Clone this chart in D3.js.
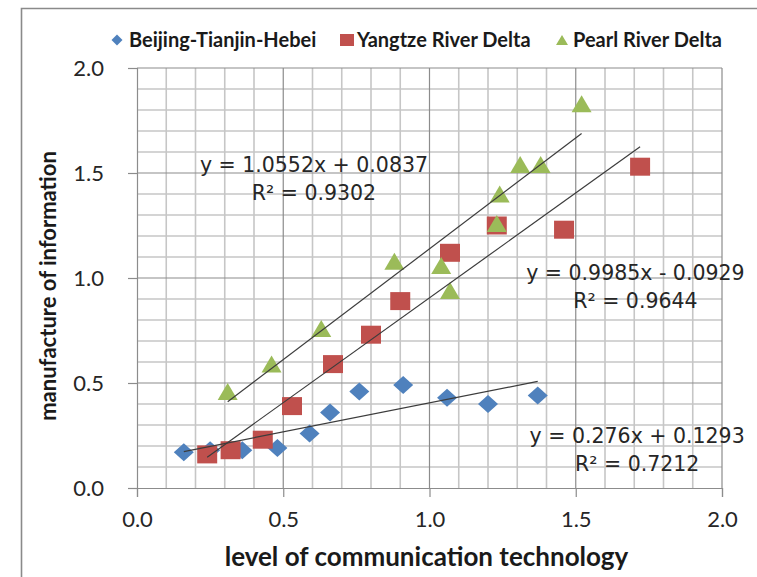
<!DOCTYPE html>
<html>
<head>
<meta charset="utf-8">
<script src="https://cdn.jsdelivr.net/npm/d3@7"></script>
<style>
  html, body { margin: 0; padding: 0; background: #fff; }
  svg { display: block; }
</style>
</head>
<body>
<div id="chart"></div>
<script>
// ---- data -------------------------------------------------------------
const seriesNames = ["Beijing-Tianjin-Hebei", "Yangtze River Delta", "Pearl River Delta"];

const bthX = [0.16, 0.25, 0.36, 0.48, 0.59, 0.66, 0.76, 0.91, 1.06, 1.20, 1.37];
const bthY = [0.17, 0.18, 0.18, 0.19, 0.26, 0.36, 0.46, 0.49, 0.43, 0.40, 0.44];

const yrdX = [0.24, 0.32, 0.43, 0.53, 0.67, 0.80, 0.90, 1.07, 1.23, 1.46, 1.72];
const yrdY = [0.16, 0.18, 0.23, 0.39, 0.59, 0.73, 0.89, 1.12, 1.25, 1.23, 1.53];

const prdX = [0.31, 0.46, 0.63, 0.88, 1.04, 1.07, 1.23, 1.24, 1.31, 1.38, 1.52];
const prdY = [0.46, 0.59, 0.76, 1.08, 1.06, 0.94, 1.26, 1.40, 1.54, 1.54, 1.83];

// linear trend lines: y = slope * x + intercept
const trendSlopes = [0.276, 0.9985, 1.0552];
const trendIntercepts = [0.1293, -0.0929, 0.0837];
const trendR2 = ["0.7212", "0.9644", "0.9302"];

const xTickValues = [0, 0.5, 1.0, 1.5, 2.0];
const yTickValues = [0, 0.5, 1.0, 1.5, 2.0];

const xTitle = "level of communication technology";
const yTitle = "manufacture of information";

// ---- layout -----------------------------------------------------------
const W = 757, H = 577;
const plot = { left: 137, right: 722, top: 68, bottom: 488 };
const colors = ["#4F81BD", "#C0504D", "#9BBB59"];
// equation label anchors in data units (centre x, first-line baseline y)
const eqAnchors = [[1.71, 0.214], [1.704, 0.99], [0.605, 1.505]];

const series = [
  { name: seriesNames[0], xs: bthX, ys: bthY },
  { name: seriesNames[1], xs: yrdX, ys: yrdY },
  { name: seriesNames[2], xs: prdX, ys: prdY }
].map((s, i) => ({
  ...s, index: i, color: colors[i],
  points: s.xs.map((x, j) => ({ x, y: s.ys[j] })),
  slope: trendSlopes[i], intercept: trendIntercepts[i], r2: trendR2[i]
}));

const x = d3.scaleLinear().domain([0, 2]).range([plot.left, plot.right]);
const y = d3.scaleLinear().domain([0, 2]).range([plot.bottom, plot.top]);

const svg = d3.select("#chart").append("svg")
  .attr("width", W).attr("height", H)
  .attr("viewBox", `0 0 ${W} ${H}`);

svg.append("rect").attr("width", W).attr("height", H).attr("fill", "#fff");

// outer chart frame (only top and left edges fall inside the page)
svg.append("path")
  .attr("d", `M21.5,${H + 2} V8.5 H${W + 2}`)
  .attr("fill", "none").attr("stroke", "#8a8a8a").attr("stroke-width", 1.6);

// ---- marker shapes ----------------------------------------------------
function markerPath(kind, w, h) {
  const a = w / 2, b = h / 2;
  if (kind === 0) return `M0,${-b} L${a},0 L0,${b} L${-a},0 Z`;
  if (kind === 1) return `M${-a},${-b} H${a} V${b} H${-a} Z`;
  return `M0,${-b} L${a},${b} L${-a},${b} Z`;
}

// ---- grid -------------------------------------------------------------
const minorVals = d3.range(1, 20).map(d => d / 10).filter(v => Math.round(v * 10) % 5 !== 0);
const grid = svg.append("g");
grid.selectAll(".vminor").data(minorVals).join("line")
  .attr("x1", d => x(d)).attr("x2", d => x(d))
  .attr("y1", plot.top).attr("y2", plot.bottom)
  .attr("stroke", "#c6c6c6").attr("stroke-width", 1.6);
grid.selectAll(".hminor").data(minorVals).join("line")
  .attr("y1", d => y(d)).attr("y2", d => y(d))
  .attr("x1", plot.left).attr("x2", plot.right)
  .attr("stroke", "#c6c6c6").attr("stroke-width", 1.6);

// major gridlines (x = 0 / y = 0 are the axes themselves)
grid.selectAll(".vmajor").data(xTickValues.slice(1)).join("line")
  .attr("x1", d => x(d)).attr("x2", d => x(d))
  .attr("y1", plot.top).attr("y2", plot.bottom)
  .attr("stroke", "#8c8c8c").attr("stroke-width", 1.2);
grid.selectAll(".hmajor").data(yTickValues.slice(1)).join("line")
  .attr("y1", d => y(d)).attr("y2", d => y(d))
  .attr("x1", plot.left).attr("x2", plot.right)
  .attr("stroke", "#8c8c8c").attr("stroke-width", 1.2);

// ---- axes -------------------------------------------------------------
const fmt = d3.format(".1f");
const xAxis = svg.append("g")
  .attr("transform", `translate(0,${plot.bottom})`)
  .call(d3.axisBottom(x).tickValues(xTickValues).tickFormat(fmt).tickSizeOuter(0).tickSize(9).tickPadding(14));
const yAxis = svg.append("g")
  .attr("transform", `translate(${plot.left},0)`)
  .call(d3.axisLeft(y).tickValues(yTickValues).tickFormat(fmt).tickSizeOuter(0).tickSize(9).tickPadding(24));

[xAxis, yAxis].forEach(g => {
  g.select(".domain").attr("stroke", "#8c8c8c").attr("stroke-width", 1.2);
  g.selectAll(".tick line").attr("stroke", "#8c8c8c").attr("stroke-width", 1.2);
  g.selectAll(".tick text")
    .attr("fill", "#262626")
    .style("font-family", "Lato, 'Open Sans', sans-serif")
    .style("font-size", "22px");
});

svg.append("text")
  .attr("x", (plot.left + plot.right) / 2 - 3).attr("y", 566)
  .attr("text-anchor", "middle")
  .style("font-family", "Lato, 'Open Sans', sans-serif")
  .style("font-weight", "bold").style("font-size", "26px")
  .attr("fill", "#1a1a1a")
  .text(xTitle);

svg.append("text")
  .attr("transform", `translate(56,${(plot.top + plot.bottom) / 2 + 8}) rotate(-90)`)
  .attr("text-anchor", "middle")
  .style("font-family", "Lato, 'Open Sans', sans-serif")
  .style("font-weight", "bold").style("font-size", "22px")
  .attr("fill", "#1a1a1a")
  .text(yTitle);

// ---- markers ----------------------------------------------------------
const markerSize = [[20, 18], [20, 18], [20, 17]];
series.forEach(s => {
  svg.append("g").selectAll("path").data(s.points).join("path")
    .attr("d", markerPath(s.index, markerSize[s.index][0], markerSize[s.index][1]))
    .attr("transform", d => `translate(${x(d.x)},${y(d.y)})`)
    .attr("fill", s.color);
});

// ---- trend lines ------------------------------------------------------
series.forEach(s => {
  const [x0, x1] = d3.extent(s.xs);
  const line = d3.line().x(d => x(d)).y(d => y(s.slope * d + s.intercept));
  svg.append("path")
    .attr("d", line([x0, x1]))
    .attr("fill", "none").attr("stroke", "#3c3c3c").attr("stroke-width", 1.2);
});

// ---- equation labels --------------------------------------------------
function eqString(s) {
  const sign = s.intercept < 0 ? "-" : "+";
  return `y = ${s.slope}x ${sign} ${Math.abs(s.intercept)}`;
}
series.forEach(s => {
  const [ax, ay] = eqAnchors[s.index];
  const t = svg.append("text")
    .attr("text-anchor", "middle")
    .style("font-family", "'DejaVu Sans', Verdana, sans-serif")
    .style("font-size", "20.5px")
    .attr("fill", "#262626");
  t.append("tspan").attr("x", x(ax)).attr("y", y(ay)).text(eqString(s));
  t.append("tspan").attr("x", x(ax)).attr("y", y(ay) + 28).text(`R² = ${s.r2}`);
});

// ---- legend -----------------------------------------------------------
const legendItems = [
  { mx: 117, tx: 129, size: [11, 11] },
  { mx: 347, tx: 357, size: [14, 12] },
  { mx: 562, tx: 573, size: [12, 10] }
];
const legend = svg.append("g");
series.forEach(s => {
  const it = legendItems[s.index];
  legend.append("path")
    .attr("d", markerPath(s.index, it.size[0], it.size[1]))
    .attr("transform", `translate(${it.mx},40)`)
    .attr("fill", s.color);
  legend.append("text")
    .attr("x", it.tx).attr("y", 47)
    .style("font-family", "Lato, 'Open Sans', sans-serif")
    .style("font-weight", "bold").style("font-size", "20px")
    .attr("fill", "#1a1a1a")
    .text(s.name);
});
</script>
</body>
</html>
